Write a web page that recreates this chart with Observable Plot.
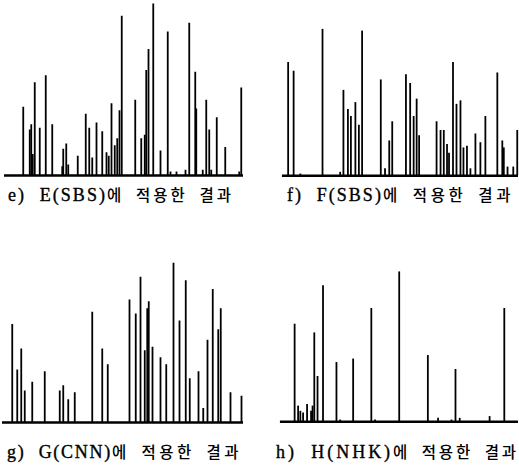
<!DOCTYPE html>
<html>
<head>
<meta charset="utf-8">
<script src="https://cdn.jsdelivr.net/npm/d3@7"></script>
<script src="https://cdn.jsdelivr.net/npm/@observablehq/plot@0.6"></script>
<style>
  html, body { margin: 0; padding: 0; background: #fff; }
  #root { position: relative; width: 519px; height: 467px; overflow: hidden; }
  .panel { position: absolute; }
  .cap { position: absolute; white-space: nowrap; color: #000; line-height: 20px; }
  .lat { display: inline-block; font-family: "Liberation Serif", serif; font-size: 18px; letter-spacing: 0; word-spacing: 7px; -webkit-text-stroke: 0.35px #000; }
  .kor { display: inline-block; font-family: "Noto Sans CJK KR", sans-serif; font-size: 15.5px; letter-spacing: 0; word-spacing: 5px; font-weight: 500; }
</style>
</head>
<body>
<div id="root"></div>
<script>
// Frame index (shot-change position) and detection value for each panel
const eFrames = [91,117,123,129,137,157,181,207,247,251,263,271,309,341,355,367,384,407,424,433,444,457,467,476,485,539,563,577,583,592,611,640,669,680,704,740,755,779,783,809,823,835,843,865,899,955,963];
const eValues = [0.39,0.26,0.29,0.12,0.53,0.27,0.57,0.29,0.05,0.15,0.18,0.06,0.11,0.35,0.27,0.10,0.30,0.25,0.13,0.11,0.41,0.17,0.21,0.37,0.91,0.43,0.21,0.23,0.60,0.72,0.98,0.14,0.82,0.02,0.02,0.03,0.87,0.59,0.38,0.03,0.43,0.26,0.03,0.33,0.16,0.02,0.50];
const eRange = [16, 972];

const fFrames = [111,133,160,249,320,333,351,363,381,395,408,483,500,517,529,584,601,615,627,637,707,723,736,749,757,773,787,803,815,829,843,863,883,903,951,971,977,992,1015,1031];
const fValues = [0.65,0.60,0.01,0.84,0.02,0.49,0.38,0.34,0.42,0.29,0.83,0.55,0.04,0.20,0.31,0.58,0.53,0.34,0.44,0.23,0.31,0.26,0.26,0.18,0.13,0.65,0.41,0.43,0.16,0.17,0.04,0.24,0.19,0.34,0.59,0.20,0.16,0.05,0.05,0.26];
const fRange = [88, 1036];

const gFrames = [47,67,83,97,127,177,237,251,271,297,367,407,429,516,541,560,577,587,593,608,640,663,692,716,741,757,792,811,828,849,871,881,920,964];
const gValues = [0.56,0.30,0.42,0.18,0.23,0.29,0.18,0.21,0.13,0.17,0.63,0.42,0.33,0.70,0.62,0.83,0.41,0.65,0.69,0.43,0.37,0.33,0.91,0.58,0.81,0.25,0.29,0.08,0.47,0.76,0.53,0.65,0.17,0.15];
const gRange = [8, 972];

const hFrames = [137,151,160,171,187,203,209,216,229,251,305,320,372,445,460,557,672,713,767,783,800,920,979];
const hValues = [0.56,0.09,0.06,0.05,0.10,0.06,0.09,0.51,0.26,0.78,0.34,0.01,0.36,0.65,0.01,0.86,0.38,0.02,0.01,0.30,0.02,0.03,0.65];
const hRange = [80, 1036];

const capLatin = ["e) E(SBS)", "f) F(SBS)", "g) G(CNN)", "h) H(NHK)"];
const capKorean = "에 적용한 결과";

function panel(frames, values, range, mt, mb) {
  const data = frames.map((f, i) => ({frame: f, value: values[i]}));
  return Plot.plot({
    width: 260, height: 180,
    marginTop: mt, marginBottom: mb, marginLeft: 0, marginRight: 0,
    x: {domain: [0, 1040], axis: null},
    y: {domain: [0, 1], axis: null},
    marks: [
      Plot.ruleX(data, {x: "frame", y1: 0, y2: "value", stroke: "#000", strokeWidth: 1.8}),
      Plot.ruleY([{a: range[0], b: range[1], y: 0}], {x1: "a", x2: "b", y: "y", stroke: "#000", strokeWidth: 2.4})
    ]
  });
}

function fit(span, target) {
  const natural = span.getBoundingClientRect().width;
  const n = span.textContent.length;
  span.style.letterSpacing = Math.max(0, (target - natural) / n).toFixed(2) + "px";
}

const root = document.getElementById("root");
const specs = [
  {f: eFrames, v: eValues, r: eRange, left: 0,   top: 0,   mt: 0, mb: 5, cl: 8,   ct: 184, lw: 99,  kw: 127},
  {f: fFrames, v: fValues, r: fRange, left: 260, top: 0,   mt: 1, mb: 4, cl: 287, ct: 184, lw: 96,  kw: 131},
  {f: gFrames, v: gValues, r: gRange, left: 0,   top: 246, mt: 1, mb: 4, cl: 7,   ct: 441, lw: 105, kw: 130},
  {f: hFrames, v: hValues, r: hRange, left: 260, top: 246, mt: 1, mb: 4, cl: 276, ct: 441, lw: 117, kw: 126}
];
specs.forEach((s, i) => {
  const d = document.createElement("div");
  d.className = "panel";
  d.style.left = s.left + "px";
  d.style.top = s.top + "px";
  d.appendChild(panel(s.f, s.v, s.r, s.mt, s.mb));
  root.appendChild(d);
  const c = document.createElement("div");
  c.className = "cap";
  c.style.left = s.cl + "px";
  c.style.top = s.ct + "px";
  const a = document.createElement("span");
  a.className = "lat";
  a.textContent = capLatin[i];
  const b = document.createElement("span");
  b.className = "kor";
  b.textContent = capKorean;
  c.appendChild(a);
  c.appendChild(b);
  root.appendChild(c);
  fit(a, s.lw);
  fit(b, s.kw);
});
</script>
</body>
</html>
